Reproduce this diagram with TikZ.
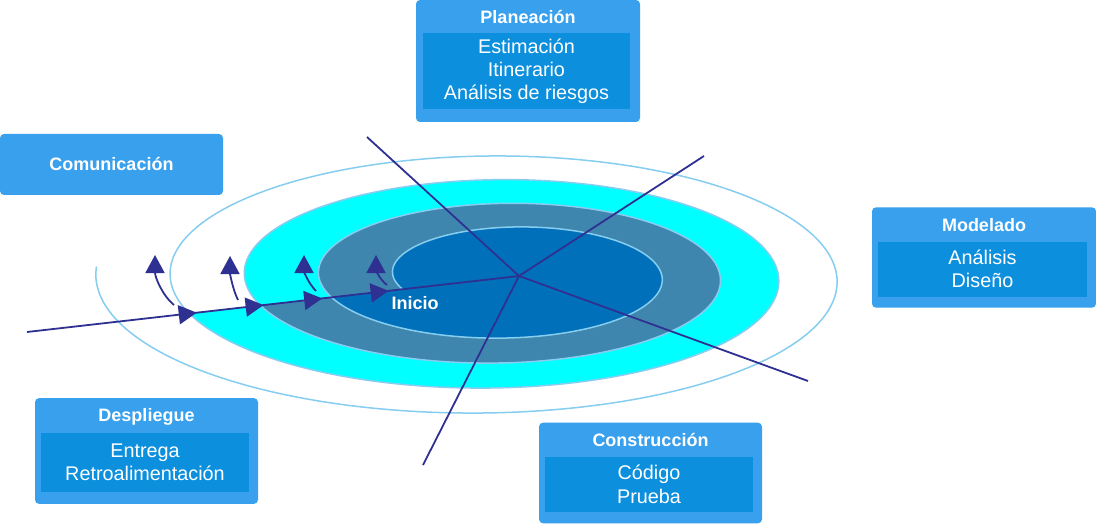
\documentclass[tikz,border=0pt]{standalone}
\usepackage{fontspec}
\setmainfont{Liberation Sans}
\usepackage{xcolor}
\usetikzlibrary{arrows.meta, decorations.markings}

\definecolor{cajaazul}{HTML}{38A0EC}
\definecolor{cajainterna}{HTML}{0C8FDD}
\definecolor{cian}{HTML}{00FFFF}
\definecolor{acero}{HTML}{3F86AF}
\definecolor{profundo}{HTML}{0070BB}
\definecolor{espiral}{HTML}{86CDF0}
\definecolor{marino}{HTML}{2E3192}

\begin{document}
\begin{tikzpicture}[x=1pt, y=-1pt,
  declare function={ti(\t)=(\t-180)/180;
    espx(\t)=481.1+3.98*ti(\t)+(385.1-33.15*ti(\t))*cos(\t);
    espy(\t)=278.75-0.33*ti(\t)-(140.5-12.17*ti(\t))*sin(\t);},
  caja/.style={fill=cajaazul, rounded corners=4pt, inner sep=0pt, minimum width=224pt},
  interior/.style={fill=cajainterna, inner sep=0pt, minimum width=208pt, text=white, align=center, font=\fontsize{19.8}{23.2}\selectfont},
  titulo/.style={text=white, inner sep=0pt, anchor=base, font=\bfseries\fontsize{18}{22}\selectfont},
  eje/.style={marino, line width=1.8pt},
  cabeza/.tip={Triangle[length=18pt, width=19pt]},
  giro/.style={marino, line width=1.8pt, -{cabeza}},
  punta/.style={decoration={markings,
    mark=at position 0.345 with {\arrow{cabeza}},
    mark=at position 0.481 with {\arrow{cabeza}},
    mark=at position 0.600 with {\arrow{cabeza}},
    mark=at position 0.735 with {\arrow{cabeza}}},
    postaction={decorate}}]

\useasboundingbox (0,0) rectangle (1096,524);

\fill[cian] plot[domain=558:918, samples=160] ({espx(\x)}, {espy(\x)}) -- cycle;
\fill[acero] plot[domain=918:1278, samples=160] ({espx(\x)}, {espy(\x)}) -- cycle;
\fill[profundo] plot[domain=1278:1638, samples=160] ({espx(\x)}, {espy(\x)}) -- cycle;
\draw[espiral, line width=1.5pt] plot[domain=175:1638, samples=600, smooth] ({espx(\x)}, {espy(\x)});

\coordinate (Centro) at (519,276);
\coordinate (Entrada) at (27,332);
\coordinate (NO) at (367,137);
\coordinate (NE) at (704,156);
\coordinate (SE) at (808,381);
\coordinate (S) at (423,465);

\draw[eje] (NO) -- (Centro);
\draw[eje] (NE) -- (Centro);
\draw[eje] (SE) -- (Centro);
\draw[eje] (S) -- (Centro);
\draw[eje, punta] (Entrada) -- (Centro);

\coordinate (T1) at (174,305);
\coordinate (T2) at (238,300);
\coordinate (T3) at (316,291);
\coordinate (T4) at (387,285);
\coordinate (H1) at (155,255);
\coordinate (H2) at (230,256);
\coordinate (H3) at (304,255);
\coordinate (H4) at (376,255);

\draw[giro] (T1) .. controls +(-12,-10) and +(0,22) .. (H1);
\draw[giro] (T2) .. controls +(-5,-10) and +(0,18) .. (H2);
\draw[giro] (T3) .. controls +(-8,-8) and +(0,16) .. (H3);
\draw[giro] (T4) .. controls +(-8,-6) and +(0,14) .. (H4);

\node[titulo] (Inicio) at (415,309) {Inicio};

\node[caja, minimum height=122pt] (Planeacion) at (528,61) {};
\node[interior, minimum width=207pt, minimum height=76pt] (PlaneacionTareas) at (526.5,71) {Estimación\\Itinerario\\Análisis de riesgos};
\node[titulo] (PlaneacionTitulo) at (528,24) {Planeación};

\node[caja, minimum width=223pt, minimum height=61pt] (Comunicacion) at (111.5,164.5) {};
\node[titulo] (ComunicacionTitulo) at (111.5,171) {Comunicación};

\node[caja, minimum height=100.4pt] (Modelado) at (984,257.5) {};
\node[interior, minimum width=209pt, minimum height=55pt] (ModeladoTareas) at (982.5,269.2) {Análisis\\Diseño};
\node[titulo] (ModeladoTitulo) at (984,231) {Modelado};

\node[caja, minimum width=223pt, minimum height=100.6pt] (Construccion) at (650.5,473) {};
\node[interior, minimum height=54.7pt] (ConstruccionTareas) at (649,484.3) {Código\\Prueba};
\node[titulo] (ConstruccionTitulo) at (650.5,446.7) {Construcción};

\node[caja, minimum width=223pt, minimum height=105.7pt] (Despliegue) at (146.5,451) {};
\node[interior, minimum height=59.6pt] (DespliegueTareas) at (145,462.5) {Entrega\\Retroalimentación};
\node[titulo] (DespliegueTitulo) at (146.5,421.7) {Despliegue};

\end{tikzpicture}
\end{document}
